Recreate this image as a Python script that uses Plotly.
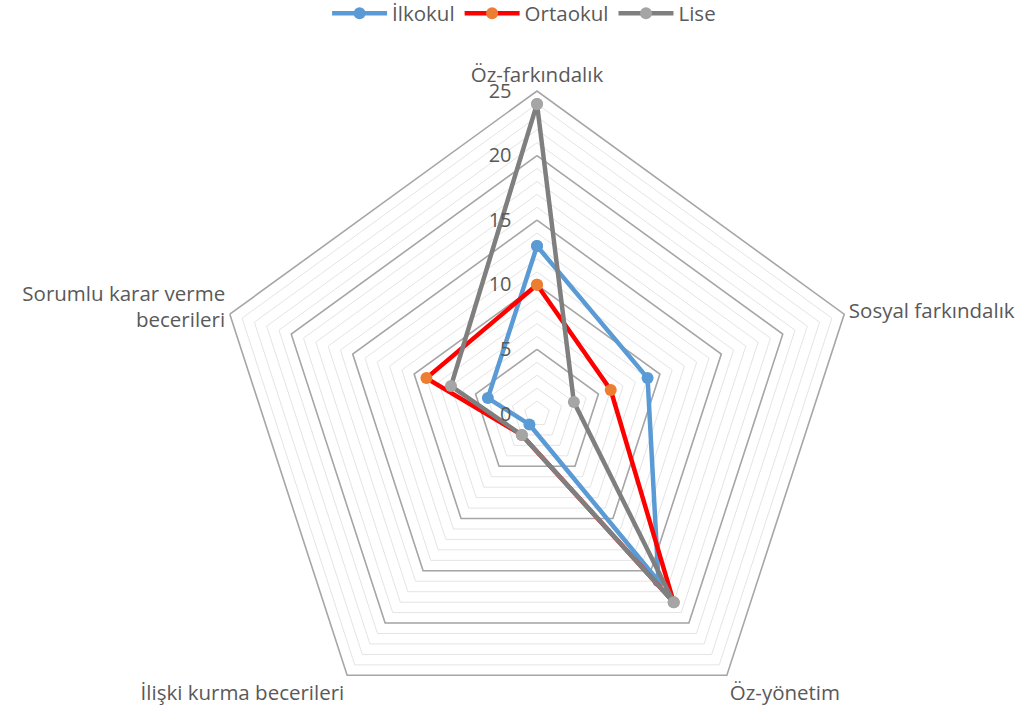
import plotly.graph_objects as go

categories = ["Öz-farkındalık", "Sosyal farkındalık", "Öz-yönetim",
              "İlişki kurma becerileri", "Sorumlu karar verme becerileri"]
category_labels = ["Öz-farkındalık", "Sosyal farkındalık", "Öz-yönetim",
                   "İlişki kurma becerileri", "Sorumlu karar verme<br>becerileri"]
series_names = ["İlkokul", "Ortaokul", "Lise"]
ilkokul = [13, 9, 16, 1, 4]
ortaokul = [10, 6, 18, 2, 9]
lise = [24, 3, 18, 2, 7]
radial_ticks = list(range(0, 26))
major_ticks = [5, 10, 15, 20, 25]

line_colors = ["#5B9BD5", "#FF0000", "#7F7F7F"]
marker_colors = ["#5B9BD5", "#ED7D31", "#A5A5A5"]

TEXT = "#595959"
FONT = "Open Sans"
FS = 20.5

fig = go.Figure()

closed_theta = categories + categories[:1]

# major ring gridlines
for m in major_ticks[:-1]:
    fig.add_trace(go.Scatterpolar(
        r=[m] * len(closed_theta), theta=closed_theta, mode="lines",
        line=dict(color="#A6A6A6", width=1.6), showlegend=False,
        hoverinfo="skip"))

for name, vals, lc, mc in zip(series_names, [ilkokul, ortaokul, lise],
                              line_colors, marker_colors):
    fig.add_trace(go.Scatterpolar(
        r=vals + vals[:1], theta=closed_theta, mode="lines+markers",
        name=name,
        line=dict(color=lc, width=4.5),
        marker=dict(color=mc, size=12, line=dict(width=0)),
    ))

fig.update_layout(
    width=1033, height=760,
    margin=dict(l=214, r=173, t=91, b=23, autoexpand=False),
    paper_bgcolor="white", plot_bgcolor="white",
    font=dict(family=FONT, size=FS, color=TEXT),
    polar=dict(
        bgcolor="white",
        gridshape="linear",
        angularaxis=dict(
            direction="clockwise", rotation=90,
            categoryorder="array", categoryarray=categories,
            tickmode="array", tickvals=categories, ticktext=category_labels,
            showgrid=False, showline=True, linecolor="#A6A6A6", linewidth=1.6,
            ticks="",
            tickfont=dict(family=FONT, size=FS, color=TEXT),
        ),
        radialaxis=dict(
            range=[0, 25], angle=90, side="counterclockwise", tickangle=90,
            tickmode="array", tickvals=radial_ticks,
            ticktext=[str(v) if v % 5 == 0 else "" for v in radial_ticks],
            showgrid=True, gridcolor="#E4E4E4", gridwidth=1,
            showline=False, ticks="outside", ticklen=18,
            tickcolor="rgba(0,0,0,0)",
            tickfont=dict(family=FONT, size=20, color=TEXT),
        ),
    ),
    legend=dict(
        orientation="h", x=0.48, xanchor="center", y=1.12, yanchor="middle",
        font=dict(family=FONT, size=FS, color=TEXT),
        itemwidth=55,
    ),
)

fig.write_html(
    "out.html",
    config={"displayModeBar": False},
    post_script="document.body.style.overflow='hidden';document.body.style.margin='0';",
)
